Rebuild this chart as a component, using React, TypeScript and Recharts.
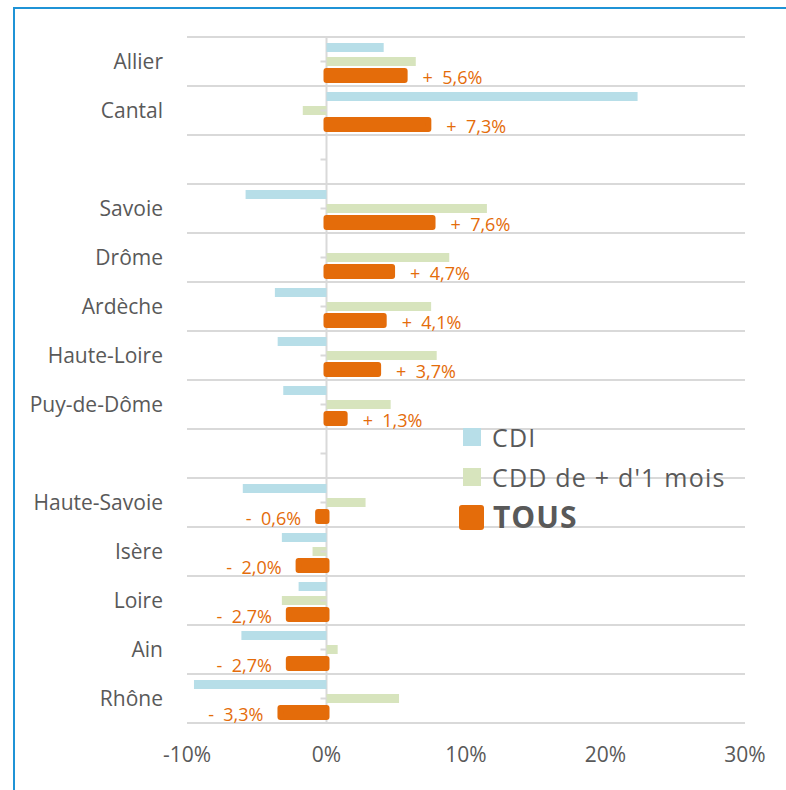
import { BarChart, Bar, XAxis, YAxis, CartesianGrid, Legend, LabelList } from 'recharts';

// departments, top to bottom ('' = empty separator row)
const categories = ['Allier', 'Cantal', '', 'Savoie', 'Drôme', 'Ardèche', 'Haute-Loire', 'Puy-de-Dôme', '', 'Haute-Savoie', 'Isère', 'Loire', 'Ain', 'Rhône'];
const cdi = [4.1, 22.3, null, -5.8, 0, -3.7, -3.5, -3.1, null, -6.0, -3.2, -2.0, -6.1, -9.5];
const cdd = [6.4, -1.7, null, 11.5, 8.8, 7.5, 7.9, 4.6, null, 2.8, -1.0, -3.2, 0.8, 5.2];
const tous = [5.6, 7.3, null, 7.6, 4.7, 4.1, 3.7, 1.3, null, -0.6, -2.0, -2.7, -2.7, -3.3];
const xTicks = [-10, 0, 10, 20, 30];
const legendOrder = ['cdi', 'cdd', 'tous'];

const data = categories.map((name, i) => ({ name, cdi: cdi[i], cdd: cdd[i], tous: tous[i] }));

const W = 786;
const H = 790;
const MARGIN = { top: 37, right: 41, bottom: 27, left: 17 };
const Y_AXIS_W = 170;
const X_AXIS_H = 40;
const X_MIN = -10;
const X_MAX = 30;
const PLOT_LEFT = MARGIN.left + Y_AXIS_W;
const PLOT_W = W - PLOT_LEFT - MARGIN.right;
const ZERO_X = PLOT_LEFT + (PLOT_W * (0 - X_MIN)) / (X_MAX - X_MIN);

const FONT = '"Open Sans", sans-serif';
const GREY = '#595959';
const GRID = '#D9D9D9';
const BLUE = '#B7DEE8';
const GREEN = '#D7E4BD';
const ORANGE = '#E46C0A';
const FRAME = '#1F93D6';

const CategoryTick = ({ x, y, payload }: any) => (
  <g>
    <line x1={ZERO_X - 6} x2={ZERO_X} y1={y} y2={y} stroke={GRID} strokeWidth={2} />
    <text x={x - 24} y={y} dy="0.35em" textAnchor="end" fill={GREY} fontSize={21} fontFamily={FONT}>
      {payload.value}
    </text>
  </g>
);

const TousLabel = (props: any) => {
  const { x, y, width, height, value } = props;
  if (value == null) return null;
  const pos = value >= 0;
  const end = pos ? Math.max(x, x + width) : Math.min(x, x + width);
  const txt = `${pos ? '+' : '-'}\u00a0\u00a0${Math.abs(value).toFixed(1).replace('.', ',')}%`;
  return (
    <text
      x={end + (pos ? 18 : -17)}
      y={y + height / 2 + 2}
      dy="0.35em"
      textAnchor={pos ? 'start' : 'end'}
      fill={ORANGE}
      fontSize={18}
      fontFamily={FONT}
    >
      {txt}
    </text>
  );
};

const LegendBox = ({ payload }: any) => {
  const items = [...(payload || [])].sort(
    (a: any, b: any) => legendOrder.indexOf(a.dataKey) - legendOrder.indexOf(b.dataKey)
  );
  return (
    <div style={{ fontFamily: FONT, color: GREY }}>
      {items.map((p: any) => {
        const big = p.dataKey === 'tous';
        return (
          <div key={p.dataKey} style={{ display: 'flex', alignItems: 'center', height: 40 }}>
            <span
              style={{
                display: 'inline-block',
                flex: 'none',
                width: big ? 25 : 18,
                height: big ? 25 : 18,
                marginLeft: big ? 0 : 4,
                marginRight: big ? 9 : 11,
                background: p.color,
                borderRadius: big ? 3 : 0,
              }}
            />
            <span
              style={{
                fontSize: big ? 30 : 25,
                fontWeight: big ? 700 : 400,
                letterSpacing: big ? 1 : 1.2,
                lineHeight: 1,
                whiteSpace: 'nowrap',
              }}
            >
              {p.value}
            </span>
          </div>
        );
      })}
    </div>
  );
};

export default function App() {
  return (
    <div style={{ position: 'fixed', left: 0, top: 0, width: W, height: H, overflow: 'hidden', background: '#fff' }}>
      <BarChart width={W} height={H} layout="vertical" data={data} margin={MARGIN} barSize={9} barGap={5}>
        <CartesianGrid
          stroke={GRID}
          strokeWidth={2}
          horizontalCoordinatesGenerator={({ offset }: any) =>
            categories.concat(['']).map((_, i) => offset.top + (offset.height * i) / categories.length)
          }
          verticalCoordinatesGenerator={({ offset }: any) => [
            offset.left + (offset.width * (0 - X_MIN)) / (X_MAX - X_MIN),
          ]}
        />
        <XAxis
          type="number"
          domain={[X_MIN, X_MAX]}
          ticks={xTicks}
          tickFormatter={(v: number) => `${v}%`}
          axisLine={false}
          tickLine={false}
          tickSize={0}
          tickMargin={24}
          height={X_AXIS_H}
          tick={{ fill: GREY, fontSize: 21, fontFamily: FONT }}
        />
        <YAxis
          type="category"
          dataKey="name"
          width={Y_AXIS_W}
          axisLine={false}
          tickLine={false}
          tickSize={0}
          tickMargin={0}
          interval={0}
          tick={<CategoryTick />}
        />
        <Legend
          layout="vertical"
          align="center"
          verticalAlign="middle"
          wrapperStyle={{ left: 459, top: 417, width: 320 }}
          content={<LegendBox />}
        />
        <Bar dataKey="cdi" name="CDI" fill={BLUE} isAnimationActive={false} />
        <Bar dataKey="cdd" name="CDD de + d'1 mois" fill={GREEN} isAnimationActive={false} />
        <Bar
          dataKey="tous"
          name="TOUS"
          fill={ORANGE}
          stroke={ORANGE}
          strokeWidth={6}
          strokeLinejoin="round"
          isAnimationActive={false}
        >
          <LabelList dataKey="tous" content={<TousLabel />} />
        </Bar>
      </BarChart>
      {/* frame around the chart, open on the right and bottom edges */}
      <div style={{ position: 'absolute', left: 13, top: 7, width: W, height: 2, background: FRAME, zIndex: 10 }} />
      <div style={{ position: 'absolute', left: 13, top: 7, width: 2, height: H, background: FRAME, zIndex: 10 }} />
    </div>
  );
}
